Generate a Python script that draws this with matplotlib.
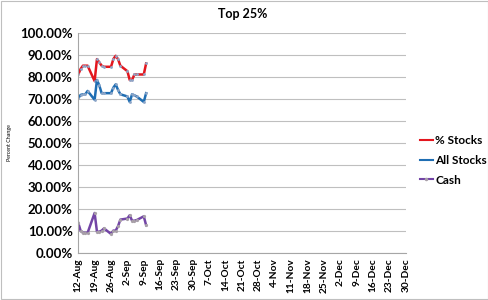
import numpy as np
import pandas as pd
import matplotlib
matplotlib.use("Agg")
import matplotlib.pyplot as plt
from matplotlib.lines import Line2D
from matplotlib.patches import Rectangle

# ==========================================================
# Data
# ==========================================================

dates = pd.to_datetime([
    "2013-08-12", "2013-08-13", "2013-08-14", "2013-08-15", "2013-08-16",
    "2013-08-19", "2013-08-20", "2013-08-21", "2013-08-22", "2013-08-23",
    "2013-08-26", "2013-08-27", "2013-08-28", "2013-08-29", "2013-08-30",
    "2013-09-02", "2013-09-03", "2013-09-04", "2013-09-05", "2013-09-06",
    "2013-09-09", "2013-09-10",
])

pct_stocks = [81.0, 83.5, 85.0, 85.0, 85.0,
              78.0, 88.0, 86.5, 85.0, 84.5,
              84.5, 88.0, 89.5, 88.0, 85.0,
              82.5, 78.5, 78.5, 81.0, 81.0,
              81.0, 86.0]

all_stocks = [70.2, 71.7, 72.0, 72.0, 73.5,
              69.5, 78.5, 76.0, 72.5, 72.5,
              72.5, 75.0, 76.5, 74.0, 72.0,
              71.0, 68.5, 72.0, 71.5, 71.0,
              68.5, 72.5]

cash = [13.5, 10.0, 9.0, 9.0, 9.0,
        18.0, 9.5, 9.5, 10.0, 11.0,
        8.5, 10.0, 10.0, 12.0, 15.0,
        15.5, 17.0, 14.5, 14.5, 14.8,
        16.5, 12.5]

labels = ["% Stocks", "All Stocks", "Cash"]
colors = ["#E3161E", "#1F6EB3", "#7345A6"]

tick_dates = pd.date_range("2013-08-12", "2013-12-30", freq="7D")

# ==========================================================
# Plot
# ==========================================================

plt.rcParams["font.family"] = ["Lato", "DejaVu Sans"]

fig = plt.figure(figsize=(4.89, 3.00), dpi=100)
ax = fig.add_axes([0.160, 0.158, 0.670, 0.733])

ax.plot(dates, np.array(pct_stocks) / 100, color=colors[0], lw=1.8,
        marker="o", ms=1.0, mfc="#8EA6C8", mec="#8EA6C8")
ax.plot(dates, np.array(all_stocks) / 100, color=colors[1], lw=1.8,
        marker="o", ms=1.0, mfc="#8EA6C8", mec="#8EA6C8")
ax.plot(dates, np.array(cash) / 100, color=colors[2], lw=1.8,
        marker="o", ms=1.3, mfc="#A8A0A8", mec="#A8A0A8")

ax.set_ylim(0, 1)
ax.set_yticks(np.arange(0, 1.01, 0.1))
ax.set_yticklabels([f"{v * 100:.2f}%" for v in np.arange(0, 1.01, 0.1)],
                   fontsize=9.5, fontweight="bold")

ax.set_xlim(tick_dates[0], tick_dates[-1])
ax.set_xticks(tick_dates)
ax.set_xticklabels([f"{d.day}-{d.strftime('%b')}" for d in tick_dates],
                   rotation=90, fontsize=7.3, fontweight="bold")

ax.tick_params(axis="both", length=0, pad=4)
ax.grid(axis="y", color="#BFBFBF", lw=0.8)
ax.set_axisbelow(True)

for side in ["top", "right"]:
    ax.spines[side].set_visible(False)
ax.spines["left"].set_color("#A6A6A6")
ax.spines["bottom"].set_color("#A6A6A6")

ax.set_ylabel("Percent Change", fontsize=3.8, labelpad=6)

fig.text(0.497, 0.953, "Top 25%", ha="center", va="center",
         fontsize=9, fontweight="bold")

handles = [Line2D([], [], color=colors[0], lw=1.5),
           Line2D([], [], color=colors[1], lw=1.5),
           Line2D([], [], color=colors[2], lw=1.5, marker="o", ms=1.5,
                  mfc="#A8A0A8", mec="#A8A0A8")]
leg = ax.legend(handles, labels, loc="center left",
                bbox_to_anchor=(1.01, 0.42),
                frameon=False, fontsize=8.5, handlelength=1.1,
                handletextpad=0.2, labelspacing=0.75)
for t in leg.get_texts():
    t.set_fontweight("bold")

fig.patches.append(Rectangle((0.002, 0.003), 0.995, 0.994,
                             transform=fig.transFigure, fill=False,
                             edgecolor="#BFBFBF", lw=0.8))

plt.savefig("out.png", dpi=100)
plt.close()
